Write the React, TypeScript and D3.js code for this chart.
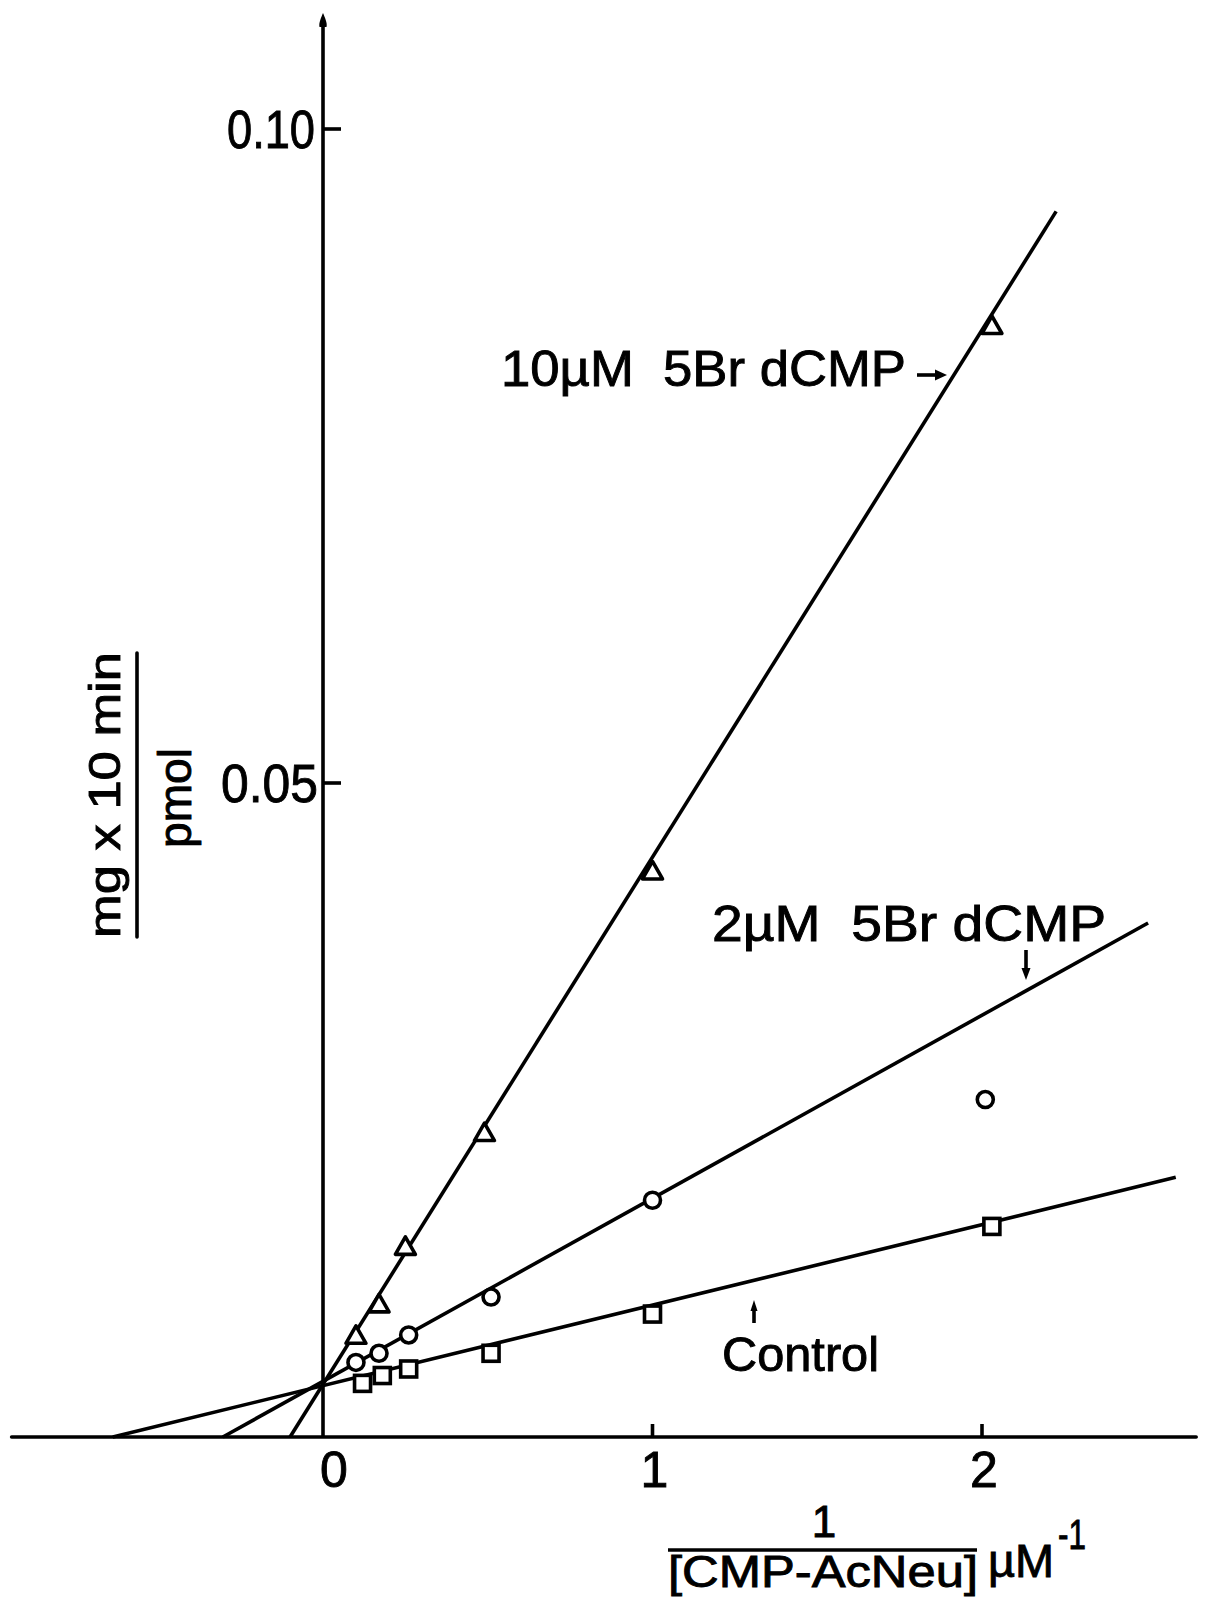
import React, { useEffect } from "react";
import * as d3 from "d3";

// ---- axis ticks ----
const xTicks = [0, 1, 2];
const xTickLabels = ["0", "1", "2"];
const yTicks = [0.05, 0.1];
const yTickLabels = ["0.05", "0.10"];

// ---- data: 1/[CMP-AcNeu] (µM^-1) vs 1/v ----
const triX = [0.1, 0.17, 0.25, 0.49, 1.0, 2.03];
const triY = [0.0077, 0.0101, 0.0145, 0.0232, 0.0432, 0.0849];
const circX = [0.1, 0.17, 0.26, 0.51, 1.0, 2.01];
const circY = [0.0057, 0.0064, 0.0078, 0.0107, 0.0181, 0.0258];
const sqX = [0.12, 0.18, 0.26, 0.51, 1.0, 2.03];
const sqY = [0.0041, 0.0047, 0.0052, 0.0064, 0.0094, 0.0161];

// ---- fitted lines: [x0, y0, x1, y1] ----
const fit10 = [-0.1, 0, 2.225, 0.0937];
const fit2 = [-0.304, 0, 2.504, 0.0393];
const fitControl = [-0.638, 0, 2.588, 0.01985];

// axis extents (data units)
const xAxisExtent = [-0.945, 2.65];
const yAxisTop = 0.1088;

const FONT = "'Liberation Sans', Arial, sans-serif";

export default function App() {
  useEffect(() => {
    document.body.style.margin = "0";
  }, []);

  const W = 1211;
  const H = 1598;
  const x = d3.scaleLinear().domain([0, 2]).range([323, 982]);
  const y = d3.scaleLinear().domain([0, 0.1]).range([1437, 129]);
  const line = d3
    .line<[number, number]>()
    .x((d) => x(d[0]))
    .y((d) => y(d[1]));

  const fits = [fit10, fit2, fitControl];
  const x0 = x(0);
  const y0 = y(0);
  const sw = 3.6;
  const ts = { stroke: "#000", strokeWidth: 0.9 } as const;

  const triPath = (cx: number, cy: number) =>
    `M${cx},${cy - 10.5}L${cx + 10},${cy + 7}L${cx - 10},${cy + 7}Z`;

  const yt = y(yAxisTop);

  return (
    <svg
      width={W}
      height={H}
      style={{ display: "block", position: "absolute", left: 0, top: 0, background: "#fff" }}
      fontFamily={FONT}
    >
      <rect width={W} height={H} fill="#fff" />
      {/* x axis */}
      <line x1={x(xAxisExtent[0])} x2={x(xAxisExtent[1])} y1={y0} y2={y0} stroke="#000" strokeWidth={sw} strokeLinecap="round" />
      {/* y axis */}
      <line x1={x0} x2={x0} y1={y0 + 1} y2={yt + 8} stroke="#000" strokeWidth={sw} />
      <path
        d={`M${x0},${yt - 1} C${x0 + 2},${yt + 4} ${x0 + 4.5},${yt + 9} ${x0 + 3.5},${yt + 13} L${x0 - 3.5},${yt + 13} C${x0 - 4.5},${yt + 9} ${x0 - 2},${yt + 4} ${x0},${yt - 1}Z`}
        fill="#000"
      />
      {/* y ticks */}
      {yTicks.map((t, i) => (
        <g key={"yt" + i}>
          <line x1={x0} x2={x0 + 18} y1={y(t)} y2={y(t)} stroke="#000" strokeWidth={sw} />
          <text
            x={i === 0 ? x0 - 102 : x0 - 96}
            y={y(t) + 19}
            fontSize={53}
            textLength={i === 0 ? 97 : 88}
            lengthAdjust="spacingAndGlyphs"
            {...ts}
          >
            {yTickLabels[i]}
          </text>
        </g>
      ))}
      {/* x ticks */}
      {xTicks.map((t, i) => (
        <g key={"xt" + i}>
          {t !== 0 && (
            <line x1={x(t)} x2={x(t)} y1={y0} y2={y0 - 13} stroke="#000" strokeWidth={sw} />
          )}
          <text
            x={x(t) + (t === 0 ? 11 : 2)}
            y={y0 + 50}
            fontSize={50}
            textAnchor="middle"
            {...ts}
          >
            {xTickLabels[i]}
          </text>
        </g>
      ))}

      {/* fitted lines */}
      {fits.map((f, i) => (
        <path
          key={"fit" + i}
          d={line([
            [f[0], f[1]],
            [f[2], f[3]],
          ]) as string}
          fill="none"
          stroke="#000"
          strokeWidth={sw}
        />
      ))}

      {/* markers */}
      {triX.map((v, i) => (
        <path key={"tri" + i} d={triPath(x(v), y(triY[i]))} fill="#fff" stroke="#000" strokeWidth={sw} strokeLinejoin="round" />
      ))}
      {circX.map((v, i) => (
        <circle key={"c" + i} cx={x(v)} cy={y(circY[i])} r={8} fill="#fff" stroke="#000" strokeWidth={sw} />
      ))}
      {sqX.map((v, i) => (
        <rect key={"s" + i} x={x(v) - 8} y={y(sqY[i]) - 8} width={16} height={16} fill="#fff" stroke="#000" strokeWidth={sw} />
      ))}

      {/* series labels */}
      <text x={501} y={386} fontSize={50} textLength={405} lengthAdjust="spacingAndGlyphs" style={{ whiteSpace: "pre" }} {...ts}>
        {"10µM  5Br dCMP"}
      </text>
      <line x1={917} x2={937} y1={375} y2={375} stroke="#000" strokeWidth={sw} />
      <path d="M947,375 L935,369.5 L935,380.5 Z" fill="#000" />

      <text x={712} y={941} fontSize={50} textLength={394} lengthAdjust="spacingAndGlyphs" style={{ whiteSpace: "pre" }} {...ts}>
        {"2µM  5Br dCMP"}
      </text>
      <line x1={1026} x2={1026} y1={950} y2={970} stroke="#000" strokeWidth={sw} />
      <path d="M1026,980 L1021.5,968 L1030.5,968 Z" fill="#000" />

      <text x={722} y={1371} fontSize={48} textLength={157} lengthAdjust="spacingAndGlyphs" {...ts}>
        Control
      </text>
      <line x1={754} x2={754} y1={1323} y2={1308} stroke="#000" strokeWidth={sw} />
      <path d="M754,1300 L750.5,1311 L757.5,1311 Z" fill="#000" />

      {/* x axis label */}
      <text x={824} y={1537} fontSize={44} textAnchor="middle" {...ts}>1</text>
      <line x1={668} x2={977} y1={1550} y2={1550} stroke="#000" strokeWidth={sw} />
      <text x={668} y={1587} fontSize={44} textLength={310} lengthAdjust="spacingAndGlyphs" {...ts}>
        [CMP-AcNeu]
      </text>
      <text x={988} y={1577} fontSize={46} textLength={66} lengthAdjust="spacingAndGlyphs" {...ts}>µM</text>
      <text x={1058} y={1549} fontSize={42} textLength={28} lengthAdjust="spacingAndGlyphs" {...ts}>-1</text>

      {/* y axis label */}
      <text transform="translate(120,795) rotate(-90)" fontSize={44} textAnchor="middle" textLength={286} lengthAdjust="spacingAndGlyphs" style={{ whiteSpace: "pre" }} {...ts}>
        {"mg x 10 min"}
      </text>
      <line x1={137} x2={137} y1={653} y2={937} stroke="#000" strokeWidth={sw} strokeLinecap="round" />
      <text transform="translate(191,798) rotate(-90)" fontSize={46} textAnchor="middle" textLength={100} lengthAdjust="spacingAndGlyphs" {...ts}>
        pmol
      </text>
    </svg>
  );
}
